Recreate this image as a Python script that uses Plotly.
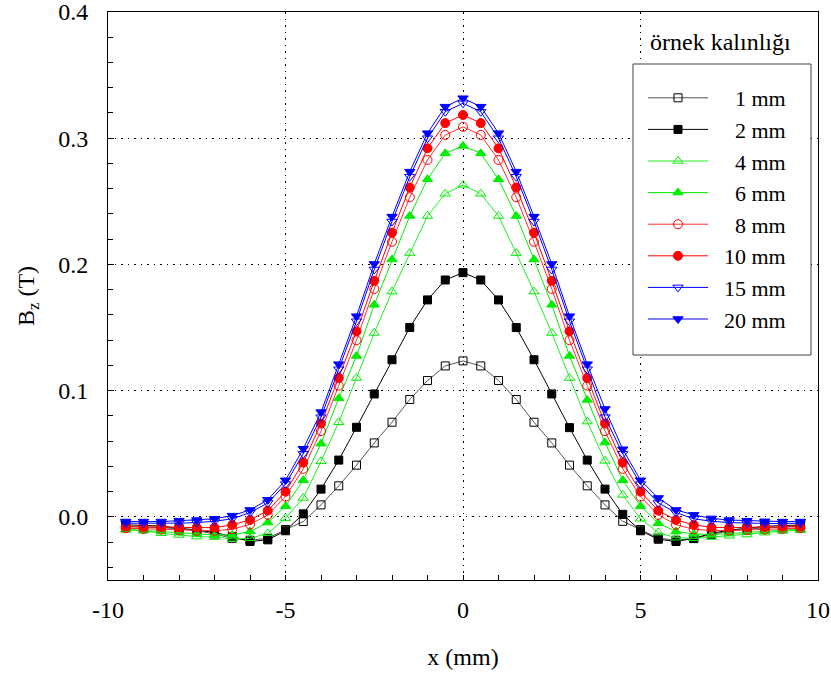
import plotly.graph_objects as go

x_mm = [-9.5, -9.0, -8.5, -8.0, -7.5, -7.0, -6.5, -6.0, -5.5, -5.0, -4.5, -4.0, -3.5, -3.0, -2.5, -2.0, -1.5, -1.0, -0.5, 0.0,
        0.5, 1.0, 1.5, 2.0, 2.5, 3.0, 3.5, 4.0, 4.5, 5.0, 5.5, 6.0, 6.5, 7.0, 7.5, 8.0, 8.5, 9.0, 9.5]

bz_1mm = [-0.0077, -0.0080, -0.0085, -0.0095, -0.0110, -0.0135, -0.0170, -0.0185, -0.0170, -0.0100, -0.0037, 0.0095, 0.0246, 0.0410, 0.0586, 0.0750, 0.0930, 0.1080, 0.1196, 0.1236,
          0.1196, 0.1080, 0.0930, 0.0750, 0.0586, 0.0410, 0.0246, 0.0095, -0.0035, -0.0100, -0.0168, -0.0185, -0.0172, -0.0138, -0.0112, -0.0096, -0.0086, -0.0080, -0.0077]
bz_2mm = [-0.0063, -0.0067, -0.0072, -0.0090, -0.0103, -0.0124, -0.0156, -0.0195, -0.0182, -0.0110, 0.0024, 0.0220, 0.0450, 0.0710, 0.0974, 0.1245, 0.1500, 0.1719, 0.1877, 0.1935,
          0.1877, 0.1719, 0.1500, 0.1245, 0.0974, 0.0707, 0.0450, 0.0220, 0.0020, -0.0110, -0.0177, -0.0195, -0.0170, -0.0130, -0.0105, -0.0090, -0.0075, -0.0068, -0.0065]
bz_4mm = [-0.0103, -0.0110, -0.0130, -0.0143, -0.0156, -0.0160, -0.0174, -0.0170, -0.0130, -0.0010, 0.0150, 0.0440, 0.0750, 0.1100, 0.1457, 0.1785, 0.2090, 0.2384, 0.2560, 0.2630,
          0.2560, 0.2384, 0.2090, 0.1785, 0.1457, 0.1100, 0.0755, 0.0444, 0.0174, -0.0015, -0.0124, -0.0165, -0.0170, -0.0160, -0.0150, -0.0140, -0.0125, -0.0112, -0.0105]
bz_6mm = [-0.0098, -0.0105, -0.0116, -0.0125, -0.0135, -0.0143, -0.0143, -0.0116, -0.0045, 0.0085, 0.0290, 0.0580, 0.0940, 0.1275, 0.1680, 0.2040, 0.2384, 0.2675, 0.2880, 0.2939,
          0.2880, 0.2675, 0.2384, 0.2040, 0.1680, 0.1275, 0.0927, 0.0589, 0.0290, 0.0085, -0.0050, -0.0116, -0.0135, -0.0140, -0.0132, -0.0122, -0.0112, -0.0104, -0.0098]
bz_8mm = [-0.0090, -0.0095, -0.0100, -0.0105, -0.0110, -0.0110, -0.0098, -0.0060, 0.0016, 0.0160, 0.0380, 0.0680, 0.1040, 0.1400, 0.1806, 0.2180, 0.2532, 0.2828, 0.3026, 0.3090,
          0.3026, 0.2828, 0.2532, 0.2180, 0.1806, 0.1400, 0.1040, 0.0680, 0.0380, 0.0160, 0.0016, -0.0062, -0.0098, -0.0108, -0.0108, -0.0104, -0.0100, -0.0094, -0.0090]
bz_10mm = [-0.0077, -0.0080, -0.0080, -0.0085, -0.0085, -0.0085, -0.0063, -0.0024, 0.0050, 0.0200, 0.0430, 0.0740, 0.1100, 0.1470, 0.1870, 0.2252, 0.2610, 0.2920, 0.3120, 0.3184,
           0.3120, 0.2920, 0.2610, 0.2252, 0.1870, 0.1470, 0.1100, 0.0740, 0.0430, 0.0200, 0.0050, -0.0024, -0.0063, -0.0083, -0.0085, -0.0083, -0.0080, -0.0078, -0.0077]
bz_15mm = [-0.0050, -0.0052, -0.0052, -0.0050, -0.0045, -0.0035, -0.0015, 0.0034, 0.0110, 0.0260, 0.0500, 0.0790, 0.1170, 0.1550, 0.1960, 0.2340, 0.2695, 0.3000, 0.3210, 0.3277,
           0.3210, 0.3000, 0.2695, 0.2340, 0.1960, 0.1550, 0.1170, 0.0790, 0.0500, 0.0260, 0.0110, 0.0034, -0.0015, -0.0035, -0.0045, -0.0050, -0.0052, -0.0052, -0.0050]
bz_20mm = [-0.0037, -0.0037, -0.0037, -0.0030, -0.0025, -0.0015, 0.0010, 0.0055, 0.0135, 0.0290, 0.0540, 0.0830, 0.1210, 0.1590, 0.2004, 0.2379, 0.2735, 0.3040, 0.3250, 0.3317,
           0.3250, 0.3040, 0.2735, 0.2379, 0.2004, 0.1590, 0.1210, 0.0855, 0.0536, 0.0290, 0.0150, 0.0055, 0.0016, -0.0012, -0.0025, -0.0030, -0.0035, -0.0037, -0.0037]

series_names = ["1 mm", "2 mm", "4 mm", "6 mm", "8 mm", "10 mm", "15 mm", "20 mm"]
series_values = [bz_1mm, bz_2mm, bz_4mm, bz_6mm, bz_8mm, bz_10mm, bz_15mm, bz_20mm]
line_colors = ["#555555", "#000000", "#22ee22", "#00ee00", "#ff3030", "#ff0000", "#0000ff", "#0000ff"]
marker_colors = ["#000000", "#000000", "#00ee00", "#00ee00", "#ff0000", "#ff0000", "#0000ff", "#0000ff"]
marker_symbols = ["square-open", "square", "triangle-up-open", "triangle-up", "circle-open", "circle", "triangle-down-open", "triangle-down"]
marker_sizes = [8, 8, 9, 9, 9, 9, 9, 9]

legend_title = "örnek kalınlığı"
x_ticks = [-10, -5, 0, 5, 10]
y_ticks = [0.0, 0.1, 0.2, 0.3, 0.4]
y_ticklabels = ["0.0", "0.1", "0.2", "0.3", "0.4"]

FONT = "Liberation Serif, Times New Roman, Times, serif"
NB = "\u00a0"

fig = go.Figure()
for name, vals, lc, mc, sym, ms in zip(series_names, series_values, line_colors, marker_colors, marker_symbols, marker_sizes):
    pad = NB * 4 if len(name.split()[0]) == 1 else NB * 2
    fig.add_trace(go.Scatter(
        x=x_mm, y=vals, mode="lines+markers", name=pad + name,
        line=dict(color=lc, width=1),
        marker=dict(symbol=sym, size=ms, color=mc, line=dict(color=mc, width=1)),
    ))

L, R, T, B = 108, 13, 12, 97
W, H = 831, 677
pw, ph = W - L - R, H - T - B

def px(xp):
    return (xp - L) / pw

def py(yp):
    return (H - B - yp) / ph

fig.add_shape(type="rect", xref="paper", yref="paper",
              x0=px(633), x1=px(811), y0=py(355), y1=py(64),
              fillcolor="white", line=dict(color="#404040", width=1), layer="above")

fig.add_annotation(text=legend_title, xref="paper", yref="paper",
                   x=px(720), y=py(42), showarrow=False,
                   font=dict(family=FONT, size=24, color="black"),
                   xanchor="center", yanchor="middle")

fig.update_layout(
    width=W, height=H,
    margin=dict(l=L, r=R, t=T, b=B, autoexpand=False),
    paper_bgcolor="white", plot_bgcolor="white",
    font=dict(family=FONT, size=24, color="black"),
    legend=dict(x=px(643), y=py(77), xanchor="left", yanchor="top",
                bgcolor="rgba(0,0,0,0)", borderwidth=0,
                font=dict(family=FONT, size=22, color="black"),
                itemwidth=60, traceorder="normal"),
    showlegend=True,
)

GRIDDASH = "1.5px,5px"
fig.update_xaxes(
    range=[-10, 10], tickvals=x_ticks, ticktext=[str(v) for v in x_ticks],
    ticks="inside", ticklen=5, tickcolor="black",
    showline=True, linecolor="black", linewidth=1, mirror=True,
    showgrid=True, gridcolor="black", griddash=GRIDDASH, gridwidth=1,
    zeroline=False, automargin=False, ticklabeloverflow="allow",
    minor=dict(ticks="inside", dtick=1, ticklen=5, tickcolor="black", showgrid=False),
    tickfont=dict(family=FONT, size=24),
    ticklabelstandoff=8,
    title=dict(text="x (mm)", font=dict(family=FONT, size=24), standoff=26),
)
fig.update_yaxes(
    range=[-0.05, 0.4], tickvals=y_ticks, ticktext=y_ticklabels,
    ticks="inside", ticklen=6, tickcolor="black",
    showline=True, linecolor="black", linewidth=1, mirror=True,
    showgrid=True, gridcolor="black", griddash=GRIDDASH, gridwidth=1,
    zeroline=False, automargin=False, ticklabeloverflow="allow",
    minor=dict(ticks="inside", dtick=0.02, tick0=0, ticklen=5, tickcolor="black", showgrid=False),
    tickfont=dict(family=FONT, size=24),
    ticklabelstandoff=14,
    title=dict(text="B<sub>z</sub> (T)", font=dict(family=FONT, size=24), standoff=16),
)

fig.write_html("out.html")
